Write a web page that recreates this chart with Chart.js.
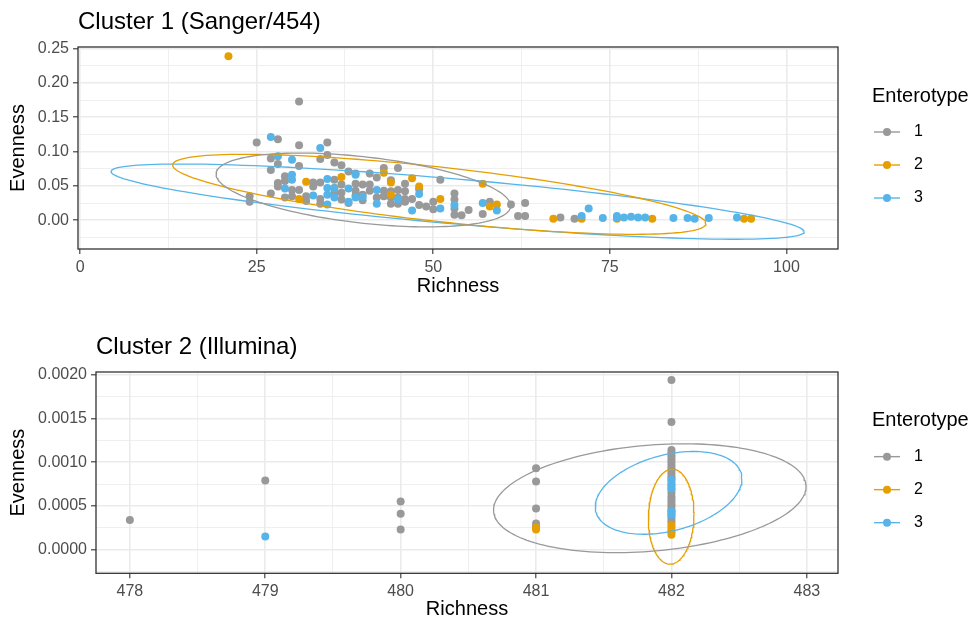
<!DOCTYPE html>
<html>
<head>
<meta charset="utf-8">
<script src="https://cdn.jsdelivr.net/npm/chart.js@4/dist/chart.umd.min.js"></script>
<style>
  body { margin: 0; background: #fff; width: 971px; height: 621px; overflow: hidden; }
  .panel { position: absolute; left: 0; }
</style>
</head>
<body>
<canvas id="c1" class="panel" style="top:0" width="971" height="310"></canvas>
<canvas id="c2" class="panel" style="top:310px" width="971" height="311"></canvas>
<script>
const FONT = '"Liberation Sans", Arial, sans-serif';
const groups = ['1', '2', '3'];
const groupColors = ['#999999', '#E69F00', '#56B4E9'];

// Cluster 1 (Sanger/454) - richness / evenness per enterotype
const c1Rich1 = [31,25,28,31,35,35,34,27,28,31,27,29,33,34,28,28,30,31,33,36,24,24,27,29,30,32,34,36,37,38,39,41,43,45,46,37,37,37,39,39,39,40,40,41,41,43,43,44,44,45,45,46,46,47,48,49,50,51,53,53,53,53,54,55,57,58,61,63,62,63,68,70,32,34,36,38,40,42,44,45,46,42,44,29,48,50];
const c1Even1 = [0.173,0.113,0.118,0.109,0.113,0.095,0.089,0.090,0.082,0.079,0.073,0.064,0.055,0.055,0.054,0.049,0.044,0.044,0.049,0.059,0.035,0.027,0.039,0.033,0.035,0.035,0.031,0.084,0.080,0.071,0.068,0.068,0.076,0.076,0.053,0.052,0.040,0.030,0.053,0.043,0.036,0.052,0.037,0.052,0.043,0.043,0.035,0.042,0.033,0.044,0.033,0.042,0.031,0.031,0.022,0.020,0.027,0.059,0.039,0.030,0.017,0.008,0.007,0.015,0.009,0.027,0.023,0.025,0.006,0.006,0.004,0.002,0.028,0.024,0.040,0.025,0.029,0.033,0.024,0.024,0.027,0.062,0.058,0.057,0.045,0.016];
const c1Rich2 = [21,32,31,37,36,43,44,44,47,48,51,57,58,59,67,71,76,81,94,95];
const c1Even2 = [0.239,0.056,0.031,0.063,0.047,0.069,0.055,0.037,0.061,0.049,0.031,0.053,0.020,0.023,0.002,0.002,0.002,0.002,0.002,0.002];
const c1Rich3 = [27,34,28,30,30,30,29,33,35,35,35,35,36,36,38,38,39,39,40,42,42,45,47,48,51,53,57,59,71,72,74,76,76,77,78,79,80,84,86,87,89,93];
const c1Even3 = [0.121,0.105,0.093,0.088,0.066,0.059,0.046,0.036,0.060,0.047,0.037,0.023,0.047,0.033,0.046,0.027,0.066,0.033,0.034,0.044,0.024,0.030,0.014,0.038,0.017,0.022,0.025,0.014,0.006,0.017,0.003,0.006,0.003,0.004,0.005,0.004,0.004,0.003,0.003,0.002,0.003,0.004];
// ellipse: [centre x, half width, centre y, half height, cos of tilt phase]
const c1Ellipses = [[40.1, 20.85, 0.044, 0.0538, -0.43], [50.85, 37.75, 0.0377, 0.0583, -0.73], [53.45, 49.07, 0.027, 0.0548, -0.80]];
const c1XTicks = [0, 25, 50, 75, 100];
const c1XMinor = [12.5, 37.5, 62.5, 87.5];
const c1YTicks = [0, 0.05, 0.10, 0.15, 0.20, 0.25];
const c1YMinor = [-0.025, 0.025, 0.075, 0.125, 0.175, 0.225];

// Cluster 2 (Illumina)
const c2Rich1 = [478,479,480,480,480,481,481,481,481,481,482,482,482,482,482,482,482,482,482,482,482,482,482,482,482,482,482,482,482,482,482,482,482,482,482,482,482,482,482];
const c2Even1 = [0.00034,0.00079,0.00055,0.00041,0.00023,0.00093,0.00078,0.00047,0.00030,0.00027,0.00194,0.00146,0.00114,0.00111,0.00108,0.00105,0.00102,0.00099,0.00096,0.00093,0.00090,0.00087,0.00084,0.00081,0.00077,0.00073,0.00069,0.00065,0.00061,0.00058,0.00055,0.00052,0.00049,0.00046,0.00043,0.00040,0.00037,0.00034,0.00031];
const c2Rich2 = [481,481,482,482,482,482,482];
const c2Even2 = [0.00025,0.00023,0.00028,0.00025,0.00022,0.00020,0.00017];
const c2Rich3 = [479,482,482,482,482,482];
const c2Even3 = [0.00015,0.00080,0.00074,0.00070,0.00044,0.00040];
const c2Ellipses = [[481.84, 1.154, 0.000588, 0.000622, 0.216], [481.998, 0.1685, 0.000377, 0.000543, 0.05], [481.979, 0.5415, 0.000649, 0.000473, 0.338]];
const c2XTicks = [478, 479, 480, 481, 482, 483];
const c2XMinor = [478.5, 479.5, 480.5, 481.5, 482.5];
const c2YTicks = [0, 0.0005, 0.0010, 0.0015, 0.0020];
const c2YMinor = [-0.00025, 0.00025, 0.00075, 0.00125, 0.00175];

function ellipse(e) {
  const [cx, ax, cy, ay, c] = e;
  const d = Math.acos(c);
  const pts = [];
  for (let i = 0; i <= 160; i++) {
    const t = i / 160 * 2 * Math.PI;
    pts.push({ x: cx + ax * Math.cos(t), y: cy + ay * Math.cos(t - d) });
  }
  return pts;
}

const isMajor = (major, v) => major.some(m => Math.abs(m - v) < 1e-9);

// panel border on all four sides, like theme_bw
const panelBorder = {
  id: 'panelBorder',
  afterDraw(chart) {
    const { ctx, chartArea: a } = chart;
    ctx.save();
    ctx.strokeStyle = '#333333';
    ctx.lineWidth = 1.3;
    ctx.strokeRect(a.left, a.top, a.right - a.left, a.bottom - a.top);
    ctx.restore();
  }
};

const enterotypeLegend = {
  id: 'enterotypeLegend',
  afterDraw(chart) {
    const { ctx, chartArea: a } = chart;
    const mid = (a.top + a.bottom) / 2;
    ctx.save();
    ctx.textBaseline = 'middle';
    ctx.fillStyle = '#000';
    ctx.font = '20px ' + FONT;
    ctx.fillText('Enterotype', 872, mid - 52);
    groups.forEach((g, i) => {
      const y = mid - 16 + i * 33;
      ctx.strokeStyle = groupColors[i];
      ctx.lineWidth = 1.4;
      ctx.beginPath(); ctx.moveTo(874, y); ctx.lineTo(900, y); ctx.stroke();
      ctx.fillStyle = groupColors[i];
      ctx.beginPath(); ctx.arc(887, y, 4, 0, 2 * Math.PI); ctx.fill();
      ctx.fillStyle = '#000';
      ctx.font = '16px ' + FONT;
      ctx.fillText(g, 914, y);
    });
    ctx.restore();
  }
};

function axis(cfg) {
  return {
    type: 'linear',
    min: cfg.min,
    max: cfg.max,
    afterBuildTicks: s => { s.ticks = cfg.major.concat(cfg.minor).sort((a, b) => a - b).map(v => ({ value: v })); },
    afterFit: cfg.fit,
    border: { display: false },
    grid: {
      color: '#EBEBEB',
      lineWidth: c => (c.tick && isMajor(cfg.major, c.tick.value)) ? 1.6 : 0.8,
      tickColor: c => (c.tick && isMajor(cfg.major, c.tick.value)) ? '#333333' : 'rgba(0,0,0,0)',
      tickWidth: 1.1,
      tickLength: 5
    },
    ticks: {
      autoSkip: false,
      maxRotation: 0,
      padding: 4,
      color: '#4D4D4D',
      font: { family: FONT, size: 16 },
      callback: v => isMajor(cfg.major, v) ? cfg.fmt(v) : ''
    },
    title: { display: true, text: cfg.title, color: '#000', font: { family: FONT, size: 20 }, padding: cfg.titlePad }
  };
}

function makePanel(id, p) {
  const datasets = [];
  p.ellipses.forEach((e, i) => datasets.push({
    data: ellipse(e), showLine: true, pointRadius: 0, borderColor: groupColors[i], borderWidth: 1.3, fill: false, order: 0
  }));
  p.rich.forEach((r, i) => datasets.push({
    data: r.map((x, j) => ({ x: x, y: p.even[i][j] })),
    backgroundColor: groupColors[i], pointRadius: 4, borderWidth: 0, order: 3 - i
  }));
  new Chart(document.getElementById(id), {
    type: 'scatter',
    data: { datasets: datasets },
    options: {
      responsive: false,
      animation: false,
      layout: { padding: { left: 0, right: 133, top: 0, bottom: 0 } },
      plugins: {
        legend: { display: false },
        tooltip: { enabled: false },
        title: {
          display: true, text: p.title, align: 'start', fullSize: false, color: '#000',
          font: { family: FONT, size: 24, weight: 'normal' }, padding: p.titlePad
        }
      },
      scales: {
        x: axis({ min: p.xMin, max: p.xMax, major: p.xTicks, minor: p.xMinor, fmt: v => String(v), title: 'Richness',
          titlePad: { top: 0, bottom: p.xTitleBottom }, fit: s => { s.height = p.height - p.bottom; } }),
        y: axis({ min: p.yMin, max: p.yMax, major: p.yTicks, minor: p.yMinor, fmt: v => v.toFixed(p.yDigits), title: 'Evenness',
          titlePad: { top: 6, bottom: 0 }, fit: s => { s.width = p.left; } })
      }
    },
    plugins: [panelBorder, enterotypeLegend]
  });
}

makePanel('c1', {
  title: 'Cluster 1 (Sanger/454)', titlePad: { top: 7.6, bottom: 10.6 },
  height: 310, left: 78, bottom: 249, xTitleBottom: 12,
  rich: [c1Rich1, c1Rich2, c1Rich3], even: [c1Even1, c1Even2, c1Even3], ellipses: c1Ellipses,
  xMin: -0.3, xMax: 107.3, yMin: -0.042, yMax: 0.2523, yDigits: 2,
  xTicks: c1XTicks, xMinor: c1XMinor, yTicks: c1YTicks, yMinor: c1YMinor
});

makePanel('c2', {
  title: 'Cluster 2 (Illumina)', titlePad: { top: 22.6, bottom: 10.6 },
  height: 311, left: 96, bottom: 263.3, xTitleBottom: 0,
  rich: [c2Rich1, c2Rich2, c2Rich3], even: [c2Even1, c2Even2, c2Even3], ellipses: c2Ellipses,
  xMin: 477.75, xMax: 483.23, yMin: -0.00027, yMax: 0.00203, yDigits: 4,
  xTicks: c2XTicks, xMinor: c2XMinor, yTicks: c2YTicks, yMinor: c2YMinor
});
</script>
</body>
</html>
